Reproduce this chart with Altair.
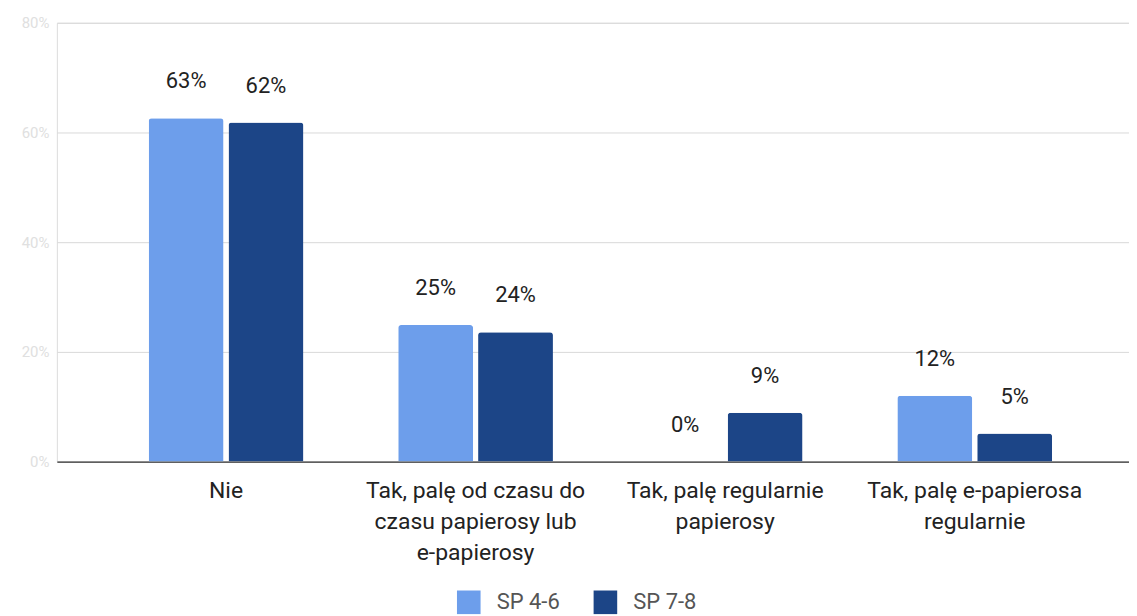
import altair as alt
import pandas as pd

categories = [
    "Nie",
    "Tak, palę od czasu do czasu papierosy lub e-papierosy",
    "Tak, palę regularnie papierosy",
    "Tak, palę e-papierosa regularnie",
]
category_lines = [
    ["Nie"],
    ["Tak, palę od czasu do", "czasu papierosy lub", "e-papierosy"],
    ["Tak, palę regularnie", "papierosy"],
    ["Tak, palę e-papierosa", "regularnie"],
]
series = ["SP 4-6", "SP 7-8"]
sp46 = [0.626, 0.249, 0.0, 0.12]
sp78 = [0.618, 0.236, 0.089, 0.051]
colors = ["#6d9eeb", "#1c4587"]
y_ticks = [0, 0.2, 0.4, 0.6, 0.8]

rows = []
for i, c in enumerate(categories):
    rows.append({"kat": c, "grupa": series[0], "v": sp46[i]})
    rows.append({"kat": c, "grupa": series[1], "v": sp78[i]})
df = pd.DataFrame(rows)

label_map = {c: l for c, l in zip(categories, category_lines)}
label_expr = "{" + ",".join(
    "'" + c + "':[" + ",".join("'" + s + "'" for s in l) + "]" for c, l in label_map.items()
) + "}[datum.label]"

FONT = "Roboto"

x = alt.X(
    "kat:N",
    sort=categories,
    title=None,
    scale=alt.Scale(paddingInner=0.38, paddingOuter=0.338, align=0.544),
    axis=alt.Axis(
        labelAngle=0,
        labelExpr=label_expr,
        labelFontSize=23,
        labelColor="#222222",
        labelLineHeight=31,
        labelPadding=18,
        labelFont=FONT,
        labelLimit=300,
        labelOverlap=False,
        ticks=False,
        domainColor="#333333",
        domainWidth=1.2,
        grid=False,
    ),
)
xoff = alt.XOffset("grupa:N", sort=series, scale=alt.Scale(paddingInner=0.0625, paddingOuter=0))
y = alt.Y(
    "v:Q",
    title=None,
    scale=alt.Scale(domain=[0, 0.8], nice=False),
    axis=alt.Axis(
        values=y_ticks,
        format=".0%",
        labelColor="#e0e0e0",
        labelFontSize=15,
        labelFont=FONT,
        labelPadding=8,
        ticks=False,
        domain=False,
        gridColor="#d9d9d9",
        gridWidth=1,
    ),
)

bars = alt.Chart(df).mark_bar(cornerRadiusTopLeft=3, cornerRadiusTopRight=3).encode(
    x=x,
    xOffset=xoff,
    y=y,
    color=alt.Color(
        "grupa:N",
        sort=series,
        scale=alt.Scale(domain=series, range=colors),
        legend=alt.Legend(
            title=None,
            orient="none",
            legendX=401,
            legendY=569,
            direction="horizontal",
            symbolType="square",
            symbolSize=560,
            symbolStrokeWidth=0,
            labelFontSize=22,
            labelColor="#555555",
            labelFont=FONT,
            labelOffset=16,
            columnPadding=33,
        ),
    ),
)

texts = alt.Chart(df).mark_text(
    baseline="alphabetic", dy=-30, fontSize=22, font=FONT, color="#222222"
).encode(
    x=x,
    xOffset=xoff,
    y=y,
    text=alt.Text("v:Q", format=".0%"),
)

chart = (
    alt.layer(bars, texts)
    .properties(
        width=1075,
        height=440,
        autosize=alt.AutoSizeParams(type="none"),
        padding={"left": 49, "top": 14, "right": 0, "bottom": 154},
    )
    .configure_view(stroke=None)
    .configure(background="white")
)

chart.save("out.html", embed_options={"renderer": "svg", "actions": False})
